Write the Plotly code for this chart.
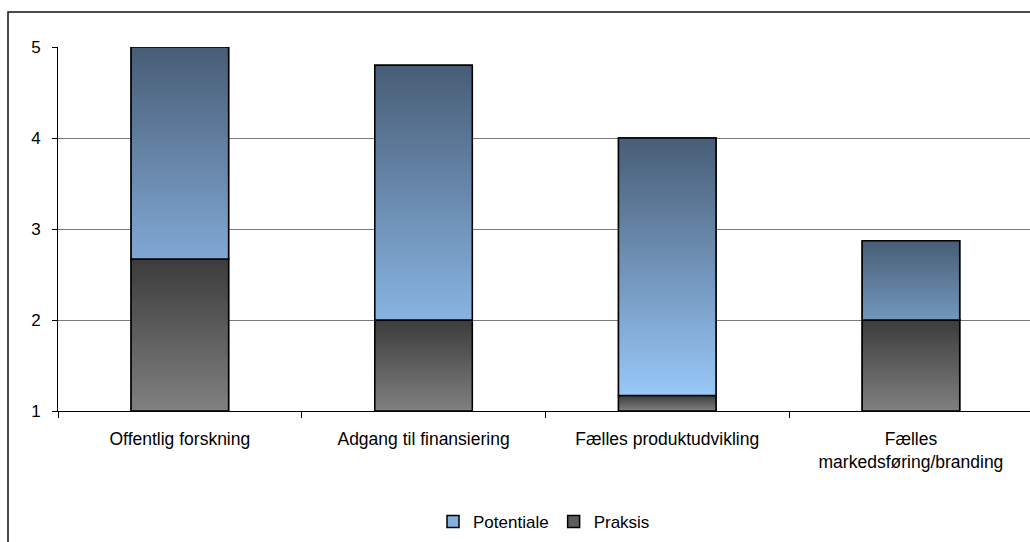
import plotly.graph_objects as go

categories = ["Offentlig forskning", "Adgang til finansiering", "Fælles produktudvikling", "Fælles<br>markedsføring/branding"]
praksis = [2.67, 2.0, 1.17, 2.0]
potentiale = [5.0, 4.8, 4.0, 2.87]
axis_base = 1.0
yticks = [1, 2, 3, 4, 5]

# style
BAR_W = 0.4
pot_bottom_colors = ["#80a8d4", "#88b4e2", "#98c8f8", "#7298bd"]
pot_top_color = "#485d76"
prak_top_color = "#3c3c3c"
prak_bottom_color = "#808080"
FONT = "Liberation Sans, Arial, sans-serif"

xpos = list(range(len(categories)))
fig = go.Figure()

# data-bearing bars (legend entries)
fig.add_trace(go.Bar(
    name="Potentiale", x=xpos, y=[p - q for p, q in zip(potentiale, praksis)], base=praksis,
    width=BAR_W, marker=dict(color="#86b0dc", line=dict(color="#000", width=1.5)),
    legendrank=1,
))
fig.add_trace(go.Bar(
    name="Praksis", x=xpos, y=[q - axis_base for q in praksis], base=[axis_base] * len(praksis),
    width=BAR_W, marker=dict(color="#5c5c5c", line=dict(color="#000", width=1.5)),
    legendrank=2,
))

# gradient overlays drawn from the same data
def grad_rect(xc, y0, y1, c_bottom, c_top):
    xs = [xc - BAR_W / 2, xc + BAR_W / 2, xc + BAR_W / 2, xc - BAR_W / 2, xc - BAR_W / 2]
    ys = [y0, y0, y1, y1, y0]
    return go.Scatter(
        x=xs, y=ys, mode="lines", fill="toself",
        fillgradient=dict(type="vertical", start=y0, stop=y1,
                          colorscale=[[0, c_bottom], [1, c_top]]),
        line=dict(color="#000", width=1.5), showlegend=False, hoverinfo="skip",
    )

for i, x in enumerate(xpos):
    fig.add_trace(grad_rect(x, axis_base, praksis[i], prak_bottom_color, prak_top_color))
    fig.add_trace(grad_rect(x, praksis[i], potentiale[i], pot_bottom_colors[i], pot_top_color))

L, T, B = 58, 47, 131
W, H = 1030, 542
plot_h = H - T - B
plot_w = W - L

fig.update_layout(
    width=W, height=H,
    margin=dict(l=L, r=0, t=T, b=B, pad=0),
    paper_bgcolor="white", plot_bgcolor="white",
    barmode="overlay",
    font=dict(family=FONT, size=17, color="#000"),
    showlegend=True,
    legend=dict(orientation="h", x=0.5, xanchor="center", y=(411 - 522) / plot_h, yanchor="middle",
                font=dict(size=17), traceorder="normal", itemwidth=30, tracegroupgap=0),
    xaxis=dict(
        range=[-0.5, -0.5 + plot_w / 243.7], tickmode="array", tickvals=xpos, ticktext=categories,
        ticks="", showgrid=False, zeroline=False,
        showline=True, linecolor="#000", linewidth=1,
        minor=dict(tick0=-0.5, dtick=1, ticks="outside", ticklen=6, tickcolor="#000", showgrid=False),
        ticklabelstandoff=12,
        tickfont=dict(size=17.5),
    ),
    yaxis=dict(
        range=[1, 5], tickmode="array", tickvals=yticks, ticks="outside", ticklen=5, tickcolor="#000",
        showgrid=True, gridcolor="#7a7a7a", gridwidth=1, zeroline=False,
        showline=True, linecolor="#000", linewidth=1, tickfont=dict(size=17),
        ticklabelstandoff=8,
    ),
    shapes=[dict(type="rect", xref="paper", yref="paper",
                 x0=(8 - L) / plot_w, x1=1.05, y0=-(H - 411 + 30) / plot_h, y1=(411 - 12) / plot_h,
                 line=dict(color="#111", width=1.5), fillcolor="rgba(0,0,0,0)", layer="below")],
)

fig.write_html("out.html")
